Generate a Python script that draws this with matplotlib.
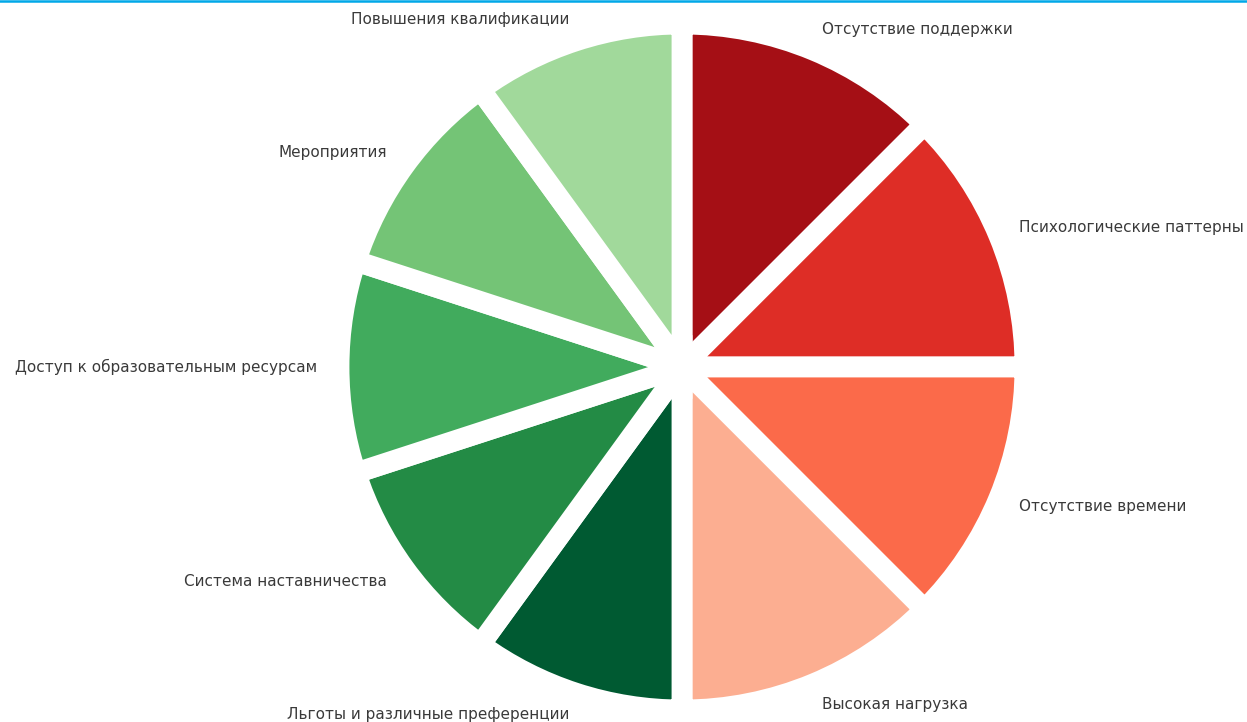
import matplotlib
matplotlib.use("Agg")
import matplotlib.pyplot as plt
from matplotlib.lines import Line2D

categories = [
    "Отсутствие поддержки",
    "Психологические паттерны",
    "Отсутствие времени",
    "Высокая нагрузка",
    "Льготы и различные преференции",
    "Система наставничества",
    "Доступ к образовательным ресурсам",
    "Мероприятия",
    "Повышения квалификации",
]
values = [25, 25, 25, 25, 20, 20, 20, 20, 20]
colors = ["#a50f15", "#de2d26", "#fb6a4a", "#fcae91",
          "#005a32", "#238b45", "#41ab5d", "#74c476", "#a1d99b"]

W, H = 1247, 722
fig = plt.figure(figsize=(W / 100, H / 100), dpi=100)
ax = fig.add_axes([0, 0, 1, 1])
ax.pie(values, labels=categories, colors=colors, startangle=90, counterclock=False,
       labeldistance=1.064,
       wedgeprops=dict(edgecolor="white", linewidth=15, joinstyle="miter"),
       textprops=dict(fontsize=11, color="#3a3a3a", family="DejaVu Sans"))

R = 343.0
cx, cy = 682.0, 722 - 367.0
ax.set_xlim(-cx / R, (W - cx) / R)
ax.set_ylim(-cy / R, (H - cy) / R)
ax.set_aspect("auto")
ax.axis("off")

fig.add_artist(Line2D([0, 1], [1 - 1 / H, 1 - 1 / H], transform=fig.transFigure,
                      color="#00a8e8", linewidth=1.8))
fig.savefig("out.png", dpi=100)
